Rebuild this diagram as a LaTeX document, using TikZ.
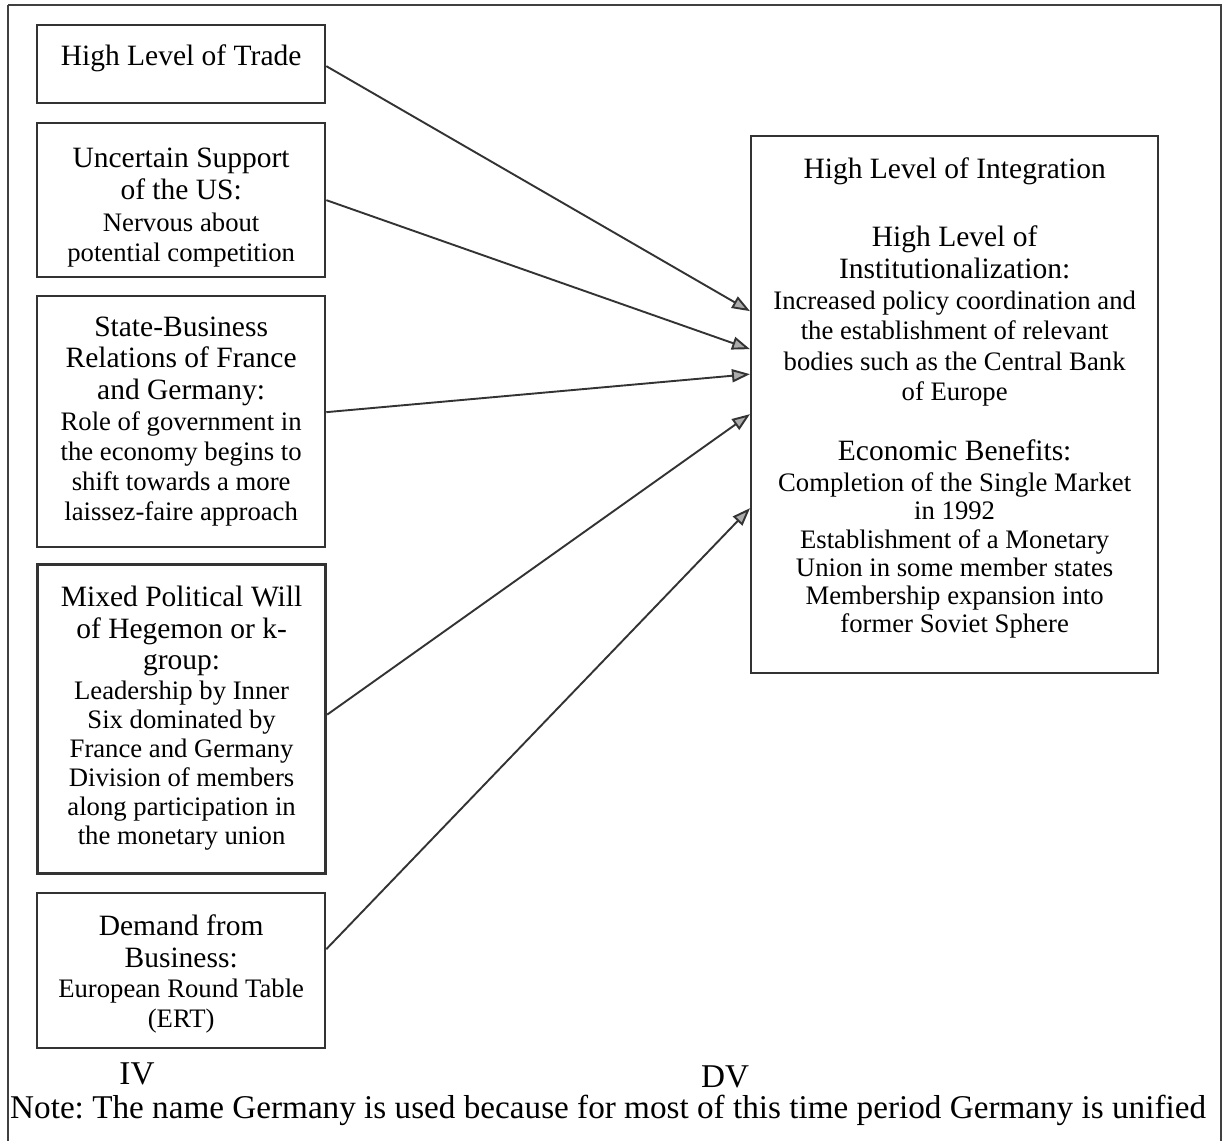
\documentclass[tikz,border=0pt]{standalone}
\usepackage{fontspec}
\setmainfont{Liberation Serif}
\usetikzlibrary{arrows.meta}
\frenchspacing
\newcommand\bigtxt{\fontsize{29.5}{30}\selectfont}
\newcommand\smalltxt{\fontsize{26.7}{30}\selectfont}
\newcommand\notetxt{\fontsize{33.2}{34}\selectfont}
\newcommand\boxtext[4]{\parbox[c][#2][t]{#1}{\centering\rule{0pt}{#3}#4}}
\begin{document}
\begin{tikzpicture}[x=1pt,y=-1pt,
  frame/.style={draw=black!75, line width=2.4pt},
  ivbox/.style={draw=black!80, line width=2.3pt, inner sep=0pt, anchor=north west},
  thickbox/.style={ivbox, line width=3.2pt},
  dvbox/.style={draw=black!80, line width=2.3pt, inner sep=0pt, anchor=north west},
  lbl/.style={inner sep=0pt, font=\notetxt},
  arr/.style={draw=black!80, line width=1.9pt, -{Triangle[length=18pt,width=13pt,fill=gray!65]}}]
\useasboundingbox (0,0) rectangle (1225,1140);
\fill[white] (0,0) rectangle (1225,1140);
\draw[frame] (8,5) -- (1221,5) -- (1221,1150) (8,5) -- (8,1150);

\node[ivbox] (b1) at (36,24) {\boxtext{288pt}{78pt}{40pt}{\bigtxt High Level of Trade}};
\node[ivbox] (b2) at (36,122) {\boxtext{288pt}{154pt}{44pt}{\bigtxt Uncertain Support\\[2pt]
  of the US:\\[2pt] \smalltxt Nervous about\\ potential competition}};
\node[ivbox] (b3) at (36,295) {\boxtext{288pt}{251pt}{40pt}{\bigtxt State-Business\\[1.5pt]
  Relations of France\\[1.5pt] and Germany:\\[1pt] \smalltxt Role of government in\\
  the economy begins to\\ shift towards a more\\ laissez-faire approach}};
\node[thickbox] (b4) at (36,563) {\boxtext{288pt}{309pt}{42pt}{\bigtxt Mixed Political Will\\[1.5pt]
  of Hegemon or k-\\[1pt] group:\\ \smalltxt Leadership by Inner\\[-1pt]
  Six dominated by\\[-1pt] France and Germany\\[-1pt] Division of members\\[-1pt]
  along participation in\\[-0.5pt] the monetary union}};
\node[ivbox] (b5) at (36,892) {\boxtext{288pt}{155pt}{42pt}{\bigtxt Demand from\\[2pt]
  Business:\\ \smalltxt European Round Table\\ (ERT)}};

\node[dvbox] (rb) at (750,135) {\boxtext{407pt}{537pt}{42pt}{\bigtxt High Level of Integration\\[38pt]
  High Level of\\[2.5pt] Institutionalization:\\[1pt] \smalltxt Increased policy coordination and\\
  the establishment of relevant\\[0.5pt] bodies such as the Central Bank\\[0.5pt] of Europe\\[30pt]
  \bigtxt Economic Benefits:\\[1pt] \smalltxt Completion of the Single Market\\[-2pt] in 1992\\[-1.5pt]
  Establishment of a Monetary\\[-2pt] Union in some member states\\[-2pt]
  Membership expansion into\\[-2pt] former Soviet Sphere}};

\draw[arr] ([yshift=-2pt]b1.east) -- ([yshift=93.5pt]rb.west);
\draw[arr] (b2.east) -- ([yshift=55.5pt]rb.west);
\draw[arr] ([yshift=9.5pt]b3.east) -- ([yshift=30.5pt]rb.west);
\draw[arr] ([yshift=4.5pt]b4.east) -- ([yshift=-9.5pt]rb.west);
\draw[arr] ([yshift=21.5pt]b5.east) -- ([yshift=-103.5pt]rb.west);

\node[lbl, anchor=base] (iv) at (137,1084) {IV};
\node[lbl, anchor=base] (dv) at (725,1087) {DV};
\node[lbl, anchor=base west] (note) at (10,1118) {Note: The name Germany is used because for most of this time period Germany is unified};
\end{tikzpicture}
\end{document}
